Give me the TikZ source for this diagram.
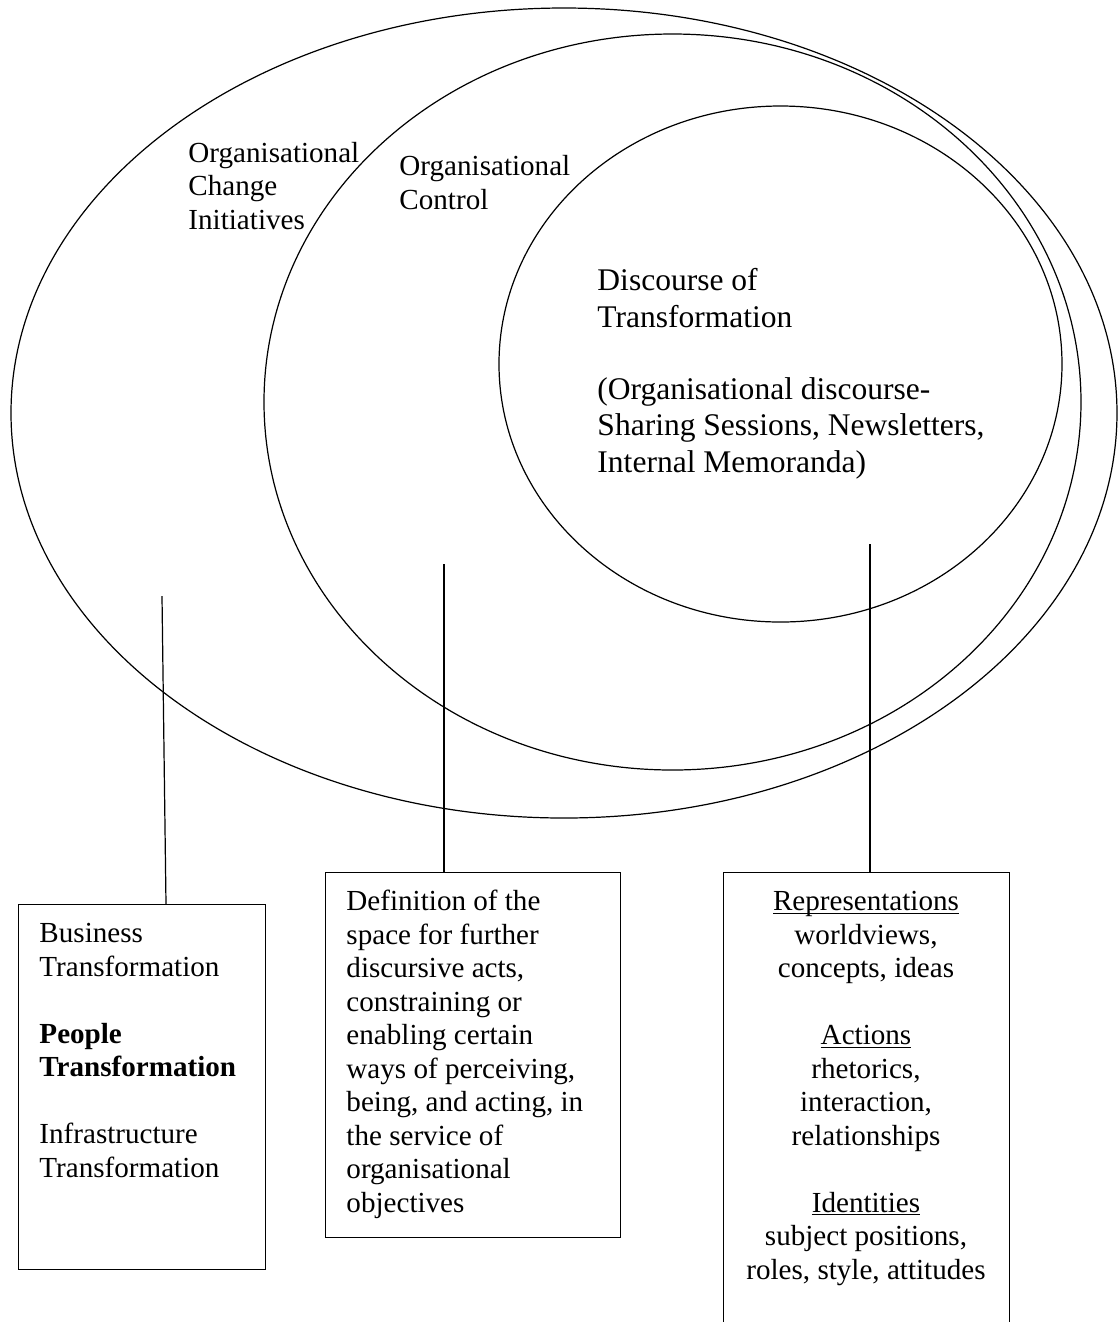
\documentclass[tikz,border=0pt]{standalone}
\usepackage{fontspec}
\setmainfont{Liberation Serif}
\usetikzlibrary{shapes.geometric}
\newdimen\pxu \pxu=0.4124pt
\newcommand{\ulword}[1]{\setbox0\hbox{#1}\rlap{\vrule height -0.9pt depth 1.4pt width \wd0}\box0}
\begin{document}
\begin{tikzpicture}[x=0.4124pt, y=-0.4124pt,
  ring/.style={draw, ellipse, inner sep=0pt, line width=0.5pt},
  panel/.style={draw, rectangle, inner sep=0pt, anchor=north west, line width=0.6pt},
  lbl/.style={inner sep=0pt, anchor=base west, align=left, font=\fontsize{12}{13.8}\selectfont},
  link/.style={line width=0.5pt}]
\useasboundingbox (0,0) rectangle (1120,1322);
\clip (0,0) rectangle (1120,1322);
\node[ring, minimum width=1106\pxu, minimum height=810\pxu] (outer) at (564,413) {};
\node[ring, minimum width=817\pxu, minimum height=736\pxu] (middle) at (672.5,402) {};
\node[ring, minimum width=563\pxu, minimum height=516\pxu] (inner) at (780.5,364) {};

% anchor=base puts the last line's baseline at the given point
\node[lbl] (oci) at (188,229) {Organisational\\Change\\Initiatives};
\node[lbl] (oc) at (399,209) {Organisational\\Control};
\node[lbl, font=\fontsize{13}{14.95}\selectfont] (dot) at (597,472)
  {Discourse of\\Transformation\\[14.95pt](Organisational discourse-\\Sharing Sessions, Newsletters,\\Internal Memoranda)};

\node[panel, minimum width=247\pxu, minimum height=365\pxu] (box1) at (18,904) {};
\node[panel, minimum width=295\pxu, minimum height=365\pxu] (box2) at (325,872) {};
\node[panel, minimum width=286\pxu, minimum height=480\pxu] (box3) at (723,872) {};

\node[lbl] (t1) at (39,1177) {Business\\Transformation\\[13.8pt]\textbf{People}\\\textbf{Transformation}\\[13.8pt]Infrastructure\\Transformation};
\node[lbl] (t2) at (346,1212) {Definition of the\\space for further\\discursive acts,\\constraining or\\enabling certain\\ways of perceiving,\\being, and acting, in\\the service of\\organisational\\objectives};
\node[lbl, anchor=base, align=center] (t3) at (866,1279) {\ulword{Representations}\\worldviews,\\concepts, ideas\\[13.8pt]\ulword{Actions}\\rhetorics,\\interaction,\\relationships\\[13.8pt]\ulword{Identities}\\subject positions,\\roles, style, attitudes};

\coordinate (e1) at (162,596);
\coordinate (e2) at (444,564);
\coordinate (e3) at (870,544);
\draw[link] (e1) -- ([xshift=148\pxu]box1.north west);
\draw[link] (e2) -- (e2 |- box2.north);
\draw[link] (e3) -- (e3 |- box3.north);
\end{tikzpicture}
\end{document}
